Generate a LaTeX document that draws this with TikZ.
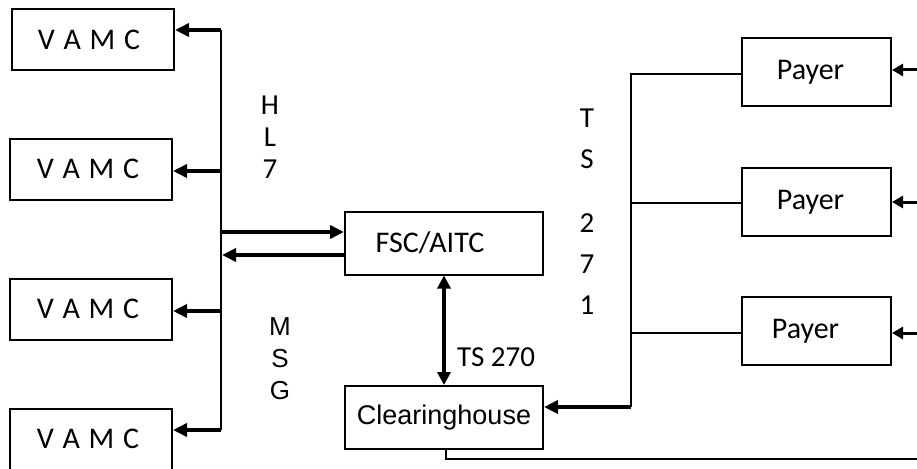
\documentclass[tikz,border=0pt]{standalone}
\usepackage{fontspec}
\setmainfont{Carlito}
\newfontfamily\arialf{Liberation Sans}
\usetikzlibrary{arrows.meta}
\newcommand{\vamctext}{V\hspace{2pt} A\hspace{2pt} M\hspace{2pt} C}
\begin{document}
\begin{tikzpicture}[x=1pt,y=-1pt,
  box/.style={draw,line width=2pt,inner sep=0pt,font=\fontsize{30}{36}\selectfont},
  vbox/.style={box,minimum width=162pt,minimum height=61pt},
  pbox/.style={box,minimum width=149pt,minimum height=68pt},
  cbox/.style={box,minimum width=198pt,minimum height=63pt},
  thin/.style={line width=2pt},
  thk/.style={line width=4pt},
  arr/.style={thk,-{Triangle[length=14pt,width=13pt]}},
  parr/.style={line width=3pt,-{Triangle[length=11pt,width=12pt]}},
  darr/.style={thk,{Triangle[length=13pt,width=13pt]}-{Triangle[length=13pt,width=13pt]}},
  lbl/.style={inner sep=0pt,align=center,font=\fontsize{29}{32}\selectfont}]
\useasboundingbox (0,0) rectangle (917,468);
\fill[white] (0,0) rectangle (917,468);
% VAMC boxes
\node[vbox] (v1) at (93,39.5) {\hspace*{-8pt}\raisebox{-3pt}{\vamctext}};
\node[vbox] (v2) at (91,169) {\hspace*{-6pt}\vamctext};
\node[vbox] (v3) at (91,309) {\hspace*{-6pt}\vamctext};
\node[vbox] (v4) at (91,439) {\hspace*{-6pt}\vamctext};
% bus
\coordinate (b1) at (221,30);
\coordinate (b2) at (221,171);
\coordinate (b3) at (221,311);
\coordinate (b4) at (221,430);
\draw[thin] (b1) -- (b4);
\draw[arr] (b1) -- (b1 -| v1.east);
\draw[arr] (b2) -- (b2 -| v2.east);
\draw[arr] (b3) -- (b3 -| v3.east);
\draw[arr] (b4) -- (b4 -| v4.east);
% FSC
\node[cbox] (fsc) at (444,243) {\hspace*{-28pt}FSC/AITC};
\coordinate (f1) at (221,232);
\coordinate (f2) at (222,255);
\draw[arr] (f1) -- (f1 -| fsc.west);
\draw[arr] (f2 -| fsc.west) -- (f2);
% Clearinghouse
\node[cbox,font=\arialf\fontsize{27}{32}\selectfont] (ch) at (444,417.5) {Clearinghouse};
\draw[darr] (fsc.south) -- (ch.north);
\node[lbl] (ts270) at (496,357) {TS 270};
% labels
\node[lbl] (hl7) at (270,137) {H\\L\\7};
\node[lbl,font=\arialf\fontsize{26}{32}\selectfont] (msg) at (280,359) {M\\S\\G};
\node[lbl,font=\fontsize{29}{41}\selectfont] (ts) at (587,139) {T\\S};
\node[lbl,font=\fontsize{29}{41}\selectfont] (n271) at (587,264) {2\\7\\1};
% Payers
\node[pbox] (p1) at (816.5,72) {\hspace*{-12pt}Payer};
\node[pbox] (p2) at (816.5,202) {\hspace*{-12pt}Payer};
\node[pbox] (p3) at (816.5,331) {\hspace*{-22pt}Payer};
\coordinate (r1) at (631,74);
\coordinate (r2) at (631,203);
\coordinate (r3) at (631,333);
\coordinate (r4) at (631,407);
\draw[thin] (r1 -| p1.west) -- (r1) -- (r4);
\draw[thin] (r2) -- (r2 -| p2.west);
\draw[thin] (r3) -- (r3 -| p3.west);
\draw[arr] (r4) -- (r4 -| ch.east);
\coordinate (e1) at (917,70);
\coordinate (e2) at (917,202);
\coordinate (e3) at (917,333);
\draw[parr] (e1) -- (e1 -| p1.east);
\draw[parr] (e2) -- (e2 -| p2.east);
\draw[parr] (e3) -- (e3 -| p3.east);
% bottom line
\coordinate (bl) at (446,459);
\coordinate (br) at (917,459);
\draw[thin] (ch.south -| bl) -- (bl) -- (br);
\end{tikzpicture}
\end{document}
